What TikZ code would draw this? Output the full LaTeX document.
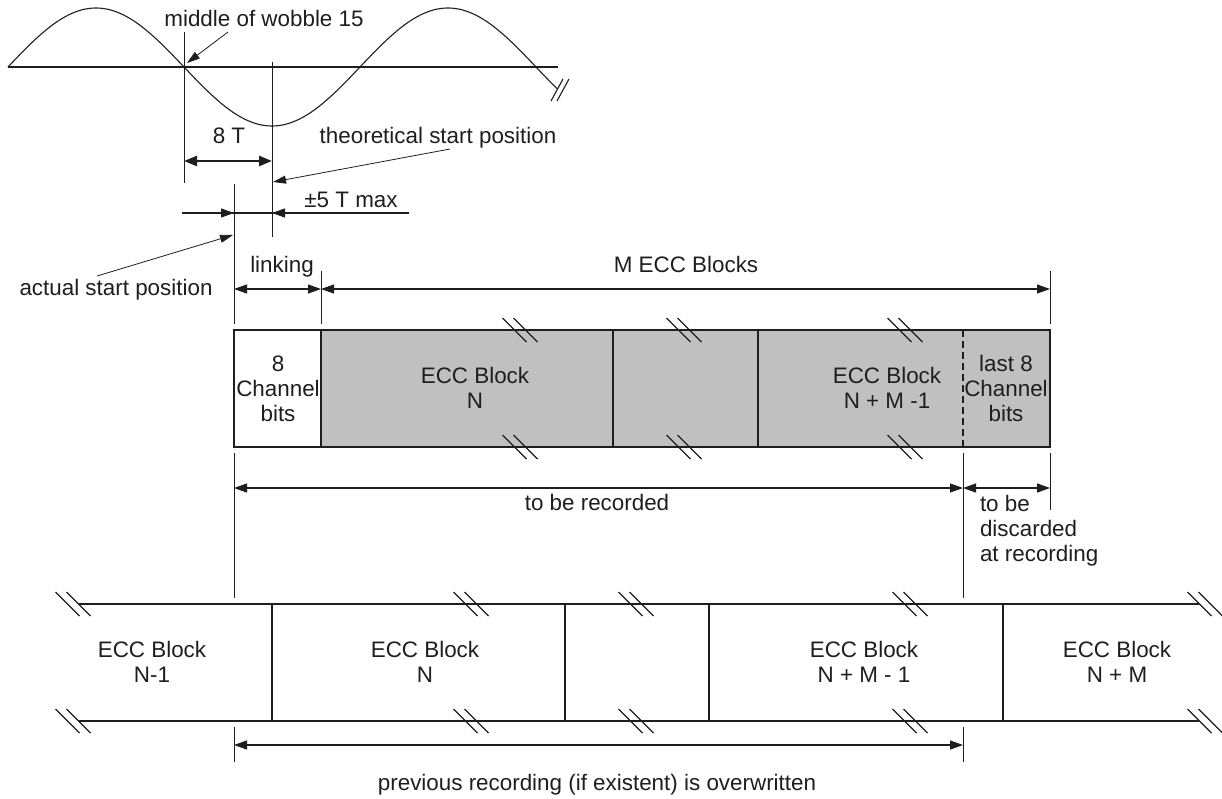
\documentclass[tikz,border=0pt]{standalone}
\usepackage{fontspec}
\setmainfont{Liberation Sans}
\usetikzlibrary{arrows.meta}
\definecolor{cellgray}{RGB}{192,192,192}
\definecolor{ink}{RGB}{30,30,30}
\begin{document}
\begin{tikzpicture}[x=1pt,y=-1pt,
  every node/.style={inner sep=0pt, outer sep=0pt, text=ink},
  txt/.style={font=\fontsize{22.4}{25}\selectfont, align=center, anchor=base},
  txtl/.style={font=\fontsize{22.4}{25}\selectfont, align=left, anchor=base west},
  ln/.style={draw=ink, line width=1.1pt},
  guide/.style={draw=ink, line width=1pt},
  dimarrow/.style={ln, {Triangle[length=13pt,width=9pt]}-{Triangle[length=13pt,width=9pt]}},
  onearrow/.style={ln, -{Triangle[length=13pt,width=9pt]}},
  leader/.style={draw=ink, line width=0.8pt, -{Triangle[length=13pt,width=8pt]}},
  brkmark/.pic={\draw[ln] (-17.5,-12) -- (6.5,12); \draw[ln] (-6.5,-12) -- (17.5,12);}
]
\useasboundingbox (0,0) rectangle (1222,798);

% ---------------- wobble ----------------
\coordinate (axL) at (8,67);
\coordinate (axR) at (558,67);
\draw[ln] (axL) -- (axR);
\draw[ln] plot[domain=8:557, samples=200, smooth] (\x, {67-59*sin(1.022727*(\x-8))});
\coordinate (wb1a) at (551,101); \coordinate (wb1b) at (563,79);
\coordinate (wb2a) at (557,101); \coordinate (wb2b) at (569,79);
\draw[ln] (wb1a) -- (wb1b);
\draw[ln] (wb2a) -- (wb2b);

% guide lines
\coordinate (g184t) at (184,32);  \coordinate (g184b) at (184,183);
\coordinate (g272t) at (272,62);  \coordinate (g272b) at (272,237);
\draw[guide] (g184t) -- (g184b);
\draw[guide] (g272t) -- (g272b);

\node[txt] (mid) at (264,26) {middle of wobble 15};
\coordinate (midA) at (228,32); \coordinate (midB) at (187,63);
\draw[leader] (midA) -- (midB);

\node[txt] (eightT) at (229,143) {8 T};
\coordinate (e8L) at (184,161); \coordinate (e8R) at (272,161);
\draw[draw=ink, line width=2.4pt, {Triangle[length=13pt,width=10pt]}-{Triangle[length=13pt,width=10pt]}] (e8L) -- (e8R);

\node[txt] (theo) at (438,143) {theoretical start position};
\coordinate (thA) at (450,149); \coordinate (thB) at (273,182);
\draw[leader] (thA) -- (thB);

% +-5 T
\node[txt] (pm) at (351,207) {±5 T max};
\coordinate (pmL) at (182,213); \coordinate (pmR) at (409,213);
\coordinate (pmT1) at (234,213); \coordinate (pmT2) at (272,213);
\draw[ln] (pmL) -- (pmR);
\draw[onearrow] (pmL) -- (pmT1);
\draw[onearrow] (pmR) -- (pmT2);

\node[txt] (actual) at (116,295) {actual start position};
\coordinate (acA) at (97,276); \coordinate (acB) at (233,235);
\draw[leader] (acA) -- (acB);

% start line and extents
\coordinate (s234a) at (234,184); \coordinate (s234b) at (234,324);
\draw[guide] (s234a) -- (s234b);
\coordinate (s321a) at (321,271); \coordinate (s321b) at (321,324);
\draw[guide] (s321a) -- (s321b);
\coordinate (s1050a) at (1050,271); \coordinate (s1050b) at (1050,324);
\draw[guide] (s1050a) -- (s1050b);

\node[txt] (linking) at (282,272) {linking};
\coordinate (lkL) at (234,289); \coordinate (lkR) at (321,289); \coordinate (mkR) at (1050,289);
\draw[dimarrow] (lkL) -- (lkR);
\node[txt] (mecc) at (686,272) {M ECC Blocks};
\draw[dimarrow] (lkR) -- (mkR);

% ---------------- upper row ----------------
\coordinate (uTL) at (234,330); \coordinate (uBR) at (1050,447);
\coordinate (uGL) at (321,330);
\fill[cellgray] (uGL) rectangle (uBR);
\draw[ln] (uTL) rectangle (uBR);
\coordinate (ud1t) at (321,330); \coordinate (ud1b) at (321,447);
\coordinate (ud2t) at (613,330); \coordinate (ud2b) at (613,447);
\coordinate (ud3t) at (758,330); \coordinate (ud3b) at (758,447);
\coordinate (ud4t) at (963,330); \coordinate (ud4b) at (963,447);
\draw[ln] (ud1t) -- (ud1b);
\draw[ln] (ud2t) -- (ud2b);
\draw[ln] (ud3t) -- (ud3b);
\draw[ln, dash pattern=on 7pt off 4pt] (ud4t) -- (ud4b);
\foreach \bx in {520,684,905} {
  \pic at (\bx,330) {brkmark};
  \pic at (\bx,447) {brkmark};
}
% multi-line nodes: base anchor = baseline of last line
\node[txt] (c8) at (278,421) {8\\Channel\\bits};
\node[txt] (ceccN) at (475,408) {ECC Block\\N};
\node[txt] (ceccNM) at (887,408) {ECC Block\\N + M -1};
\node[txt] (clast) at (1006,421) {last 8\\Channel\\bits};

% ---------------- record arrows ----------------
\coordinate (r234a) at (234,453); \coordinate (r234b) at (234,598);
\coordinate (r963a) at (963,453); \coordinate (r963b) at (963,598);
\coordinate (r1050a) at (1050,453); \coordinate (r1050b) at (1050,510);
\draw[guide] (r234a) -- (r234b);
\draw[guide] (r963a) -- (r963b);
\draw[guide] (r1050a) -- (r1050b);
\coordinate (recL) at (234,488); \coordinate (recM) at (963,488); \coordinate (recR) at (1050,488);
\draw[dimarrow] (recL) -- (recM);
\draw[dimarrow] (recM) -- (recR);
\node[txt] (tbr) at (597,510) {to be recorded};
\node[txtl] (disc) at (980,561) {to be\\discarded\\at recording};

% ---------------- lower row ----------------
\coordinate (lTL) at (79,604); \coordinate (lTR) at (1199,604);
\coordinate (lBL) at (79,721); \coordinate (lBR) at (1199,721);
\draw[ln] (lTL) -- (lTR);
\draw[ln] (lBL) -- (lBR);
\foreach \dx in {272,565,709,1003} {
  \draw[ln] (\dx,604) -- (\dx,721);
}
\foreach \bx in {73,471,636,910,1205} {
  \pic at (\bx,604) {brkmark};
  \pic at (\bx,721) {brkmark};
}
\node[txt] (bN1) at (152,682) {ECC Block\\N-1};
\node[txt] (bN) at (425,682) {ECC Block\\N};
\node[txt] (bNM1) at (864,682) {ECC Block\\N + M - 1};
\node[txt] (bNM) at (1117,682) {ECC Block\\N + M};

% ---------------- overwrite arrow ----------------
\coordinate (o234a) at (234,727); \coordinate (o234b) at (234,762);
\coordinate (o963a) at (963,727); \coordinate (o963b) at (963,762);
\draw[guide] (o234a) -- (o234b);
\draw[guide] (o963a) -- (o963b);
\coordinate (owL) at (234,745); \coordinate (owR) at (963,745);
\draw[dimarrow] (owL) -- (owR);
\node[txt] (prev) at (597,790) {previous recording (if existent) is overwritten};
\end{tikzpicture}
\end{document}
